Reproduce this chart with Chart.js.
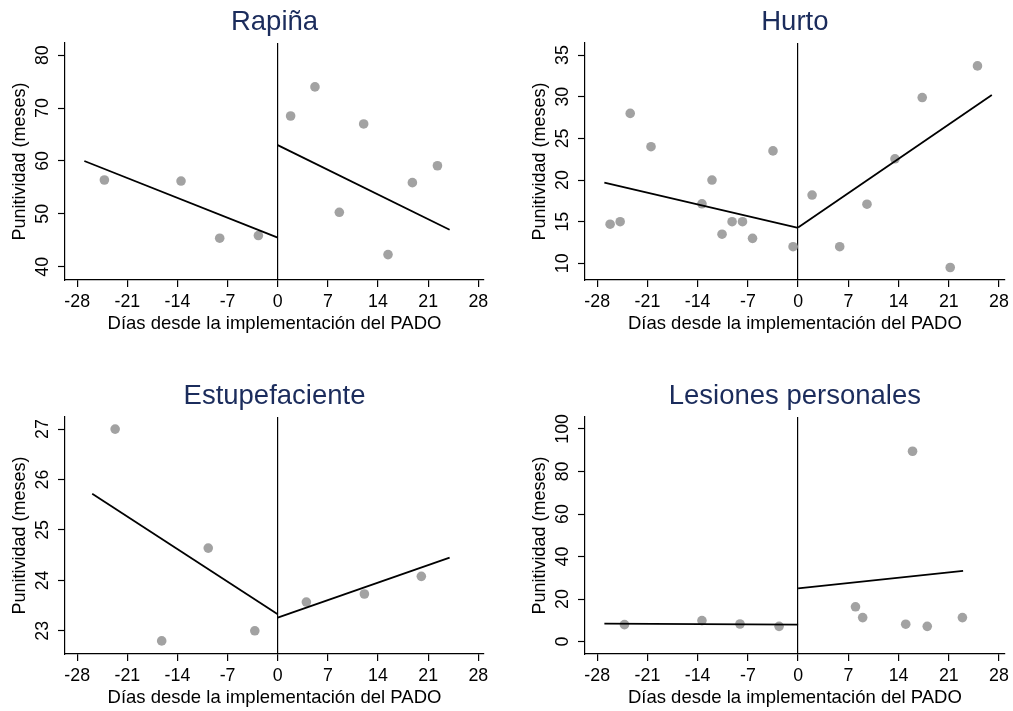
<!DOCTYPE html>
<html lang="es">
<head>
<meta charset="utf-8">
<title>Punitividad alrededor del PADO</title>
<script src="https://cdn.jsdelivr.net/npm/chart.js@4.4.1/dist/chart.umd.min.js"></script>
<style>
  html, body { margin: 0; padding: 0; background: #fff; }
  #wrap { position: relative; width: 1013px; height: 711px; overflow: hidden; }
  canvas { position: absolute; }
</style>
</head>
<body>
<div id="wrap">
  <canvas id="c1" width="493" height="337" style="left:0;top:0"></canvas>
  <canvas id="c2" width="493" height="337" style="left:520px;top:0"></canvas>
  <canvas id="c3" width="493" height="337" style="left:0;top:374px"></canvas>
  <canvas id="c4" width="493" height="337" style="left:520px;top:374px"></canvas>
</div>
<script>
// eje x comun a los cuatro paneles
const diasTicks = [-28, -21, -14, -7, 0, 7, 14, 21, 28];

// Rapiña
const rapinaDias = [-24.2, -13.5, -8.1, -2.7, 1.8, 5.2, 8.6, 12.0, 15.4, 18.8, 22.3];
const rapinaPunit = [56.4, 56.2, 45.4, 45.9, 68.5, 74.0, 50.3, 67.0, 42.3, 55.9, 59.1];
const rapinaAntes = [[-27, 60.0], [0, 45.5]];
const rapinaDespues = [[0, 63.0], [24, 47.0]];
const rapinaTicks = [40, 50, 60, 70, 80];

// Hurto
const hurtoDias = [-26.2, -24.8, -23.4, -20.5, -13.4, -12.0, -10.6, -9.2, -7.75, -6.35, -3.5, -0.7, 1.95, 5.8, 9.6, 13.5, 17.3, 21.2, 25.0];
const hurtoPunit = [14.7, 15.0, 28.0, 24.0, 17.15, 20.0, 13.5, 15.0, 15.0, 13.0, 23.5, 12.0, 18.2, 12.0, 17.1, 22.55, 29.9, 9.5, 33.7];
const hurtoAntes = [[-27, 19.7], [0, 14.25]];
const hurtoDespues = [[0, 14.3], [27, 30.2]];
const hurtoTicks = [10, 15, 20, 25, 30, 35];

// Estupefaciente
const estupDias = [-22.7, -16.2, -9.7, -3.2, 4.0, 12.1, 20.05];
const estupPunit = [27.0, 22.8, 24.64, 23.0, 23.57, 23.73, 24.08];
const estupAntes = [[-25.9, 25.72], [0, 23.33]];
const estupDespues = [[0, 23.26], [24, 24.45]];
const estupTicks = [23, 24, 25, 26, 27];

// Lesiones personales
const lesionesDias = [-24.2, -13.4, -8.1, -2.65, 8.0, 9.0, 15.0, 15.95, 18.0, 22.9];
const lesionesPunit = [8.0, 9.9, 8.3, 7.2, 16.4, 11.3, 8.2, 89.5, 7.2, 11.3];
const lesionesAntes = [[-27, 8.45], [0, 8.0]];
const lesionesDespues = [[0, 25.0], [23, 33.3]];
const lesionesTicks = [0, 20, 40, 60, 80, 100];

const fuente = 'Liberation Sans, Arial, Helvetica, sans-serif';

function panel(id, titulo, dias, punit, antes, despues, yTicks, yMin, yMax, padTicksY, padDer) {
  const puntos = dias.map((x, i) => ({ x, y: punit[i] }));
  const recta = seg => seg.map(([x, y]) => ({ x, y }));
  const linea = seg => ({
    type: 'line', data: recta(seg), borderColor: '#000', borderWidth: 1.8,
    pointRadius: 0, fill: false, order: 1
  });

  new Chart(document.getElementById(id), {
    type: 'scatter',
    data: {
      datasets: [
        { data: puntos, backgroundColor: '#a2a2a2', borderWidth: 0, pointRadius: 4.8, order: 2 },
        linea(antes),
        linea(despues)
      ]
    },
    options: {
      responsive: false,
      animation: false,
      layout: { padding: { top: 0, left: 0, right: padDer, bottom: 1.5 } },
      plugins: {
        legend: { display: false },
        tooltip: { enabled: false },
        title: {
          display: true, text: titulo, color: '#1b2c5c', fullSize: false,
          font: { family: fuente, size: 27.5, weight: 'normal' },
          padding: { top: 5.5, bottom: 4.5 }
        }
      },
      scales: {
        x: {
          type: 'linear', min: -29.7, max: 28.8,
          afterBuildTicks: s => { s.ticks = diasTicks.map(v => ({ value: v })); },
          afterFit: s => { s.height = 55.5; },
          grid: {
            color: c => (c.tick && c.tick.value === 0 ? '#000' : 'rgba(0,0,0,0)'),
            lineWidth: 1.2, tickLength: 7, tickColor: '#000', tickWidth: 1.2
          },
          border: { display: true, color: '#000', width: 1.2 },
          ticks: {
            color: '#000', font: { family: fuente, size: 17.8 }, padding: 4,
            maxRotation: 0, autoSkip: false, callback: v => String(v)
          },
          title: {
            display: true, text: 'Días desde la implementación del PADO', color: '#000',
            font: { family: fuente, size: 18.5 }, padding: { top: 0, bottom: 0 }
          }
        },
        y: {
          type: 'linear', min: yMin, max: yMax,
          afterBuildTicks: s => { s.ticks = yTicks.map(v => ({ value: v })); },
          afterFit: s => { s.width = 65; },
          grid: { drawOnChartArea: false, tickLength: 7, tickColor: '#000', tickWidth: 1.2 },
          border: { display: true, color: '#000', width: 1.2 },
          ticks: {
            color: '#000', font: { family: fuente, size: 17.8 }, padding: padTicksY,
            minRotation: 90, maxRotation: 90, crossAlign: 'center', autoSkip: false,
            callback: v => String(v)
          },
          title: {
            display: true, text: 'Punitividad (meses)', color: '#000',
            font: { family: fuente, size: 18 }, padding: { top: 9, bottom: 0 }
          }
        }
      }
    }
  });
}

panel('c1', 'Rapiña', rapinaDias, rapinaPunit, rapinaAntes, rapinaDespues, rapinaTicks, 37.5, 82.3, 5.4, 9);
panel('c2', 'Hurto', hurtoDias, hurtoPunit, hurtoAntes, hurtoDespues, hurtoTicks, 8.0, 36.45, 5.4, 7);
panel('c3', 'Estupefaciente', estupDias, estupPunit, estupAntes, estupDespues, estupTicks, 22.54, 27.24, 5.4, 9);
panel('c4', 'Lesiones personales', lesionesDias, lesionesPunit, lesionesAntes, lesionesDespues, lesionesTicks, -5.8, 105.6, 0, 7);
</script>
</body>
</html>
